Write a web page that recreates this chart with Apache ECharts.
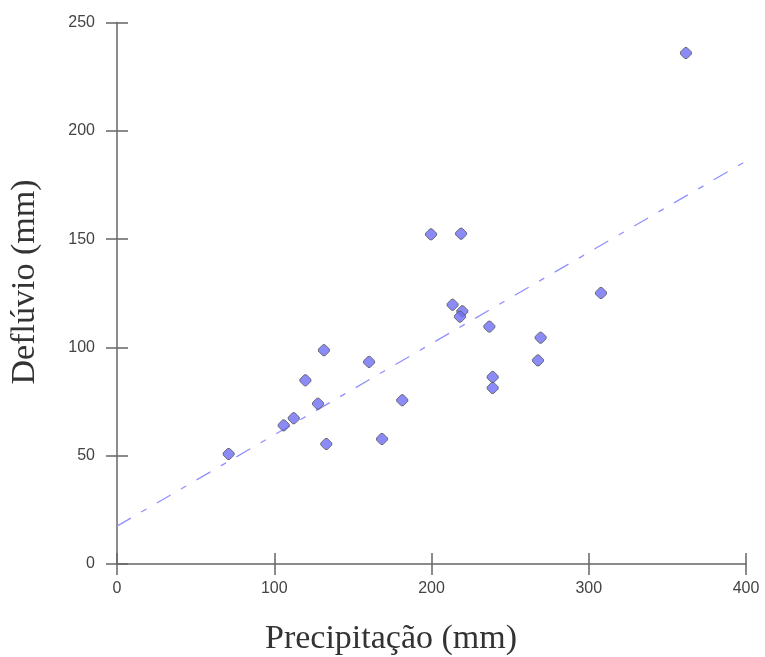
<!DOCTYPE html>
<html><head><meta charset="utf-8">
<script src="https://cdn.jsdelivr.net/npm/echarts@6/dist/echarts.min.js"></script>
<style>html,body{margin:0;padding:0;background:#fff}#c{width:765px;height:657px}</style>
</head><body><div id="c"></div>
<script>
const precipitacao = [199.7,218.8,213.4,219.6,218.1,236.8,269.4,267.7,238.9,238.9,181.4,168.5,160.3,131.6,119.8,127.8,112.4,106.0,133.1,71.0,307.8,361.8];
const defluvio     = [152.2,152.5,119.7,116.7,114.2,109.6,104.5,94.0,86.3,81.3,75.6,57.7,93.3,98.7,84.8,74.0,67.3,64.0,55.4,50.8,125.1,235.9];
const trendX = [0, 400];
const trendY = [17.5, 186];
const xTitle = 'Precipitação (mm)';
const yTitle = 'Deflúvio (mm)';

const pts = precipitacao.map((x,i)=>[x, defluvio[i]]);
const trend = trendX.map((x,i)=>[x, trendY[i]]);
const axisCol = '#666';
const chart = echarts.init(document.getElementById('c'));
const baseX = {type:'value', min:0, max:400, interval:100, splitLine:{show:false}};
const baseY = {type:'value', min:0, max:250, interval:50, splitLine:{show:false}};
const tick = {color:axisCol, width:1.5};
chart.setOption({
  animation:false,
  grid:{left:117, right:19, top:22.5, bottom:93},
  graphic:[
    {type:'text', left:'center', top:0, style:{text:'', fill:'#333'}},
    {type:'text', x:391, y:639, style:{text:xTitle, font:'34px "Liberation Serif"', fill:'#333', align:'center', verticalAlign:'middle'}},
    {type:'text', x:25, y:282, rotation:Math.PI/2, style:{text:yTitle, font:'34px "Liberation Serif"', fill:'#333', align:'center', verticalAlign:'middle'}}
  ],
  xAxis:[
    Object.assign({}, baseX, {
      position:'bottom',
      axisLine:{lineStyle:{color:axisCol, width:1.5}},
      axisTick:{length:11, lineStyle:tick},
      axisLabel:{margin:17, fontFamily:'Liberation Sans', fontSize:16, color:'#444'}
    }),
    Object.assign({}, baseX, {
      position:'bottom',
      axisLine:{show:false}, axisLabel:{show:false},
      axisTick:{inside:true, length:11, lineStyle:tick}
    })
  ],
  yAxis:[
    Object.assign({}, baseY, {
      position:'left',
      axisLine:{show:true, lineStyle:{color:axisCol, width:1.5}},
      axisTick:{show:true, length:11, lineStyle:tick},
      axisLabel:{margin:22, fontFamily:'Liberation Sans', fontSize:16, color:'#444'}
    }),
    Object.assign({}, baseY, {
      position:'left',
      axisLine:{show:false}, axisLabel:{show:false},
      axisTick:{show:true, inside:true, length:11, lineStyle:tick}
    })
  ],
  series:[
    {type:'line', data:trend, symbol:'none', silent:true, z:1,
     lineStyle:{color:'#9090ff', width:1.3, type:[16,12,6,12]}},
    {type:'scatter', data:pts, symbol:'path://M4,0 L6,0 L10,4 L10,6 L6,10 L4,10 L0,6 L0,4 Z', symbolSize:11, z:3,
     itemStyle:{color:'#6e6ef5', borderColor:'#555', borderWidth:1}}
  ]
});
</script></body></html>
